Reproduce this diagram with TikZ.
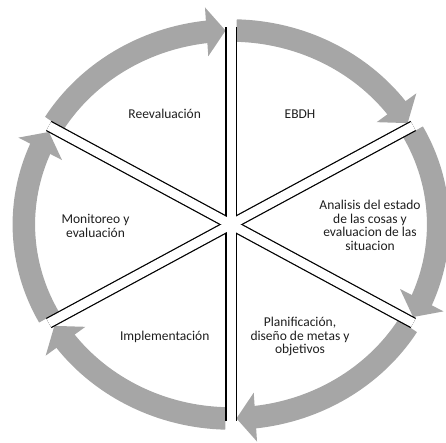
\documentclass[tikz,border=0pt]{standalone}
\usepackage{fontspec}
\setmainfont{Carlito}
\usetikzlibrary{arrows.meta}
\usetikzlibrary{bending}
\definecolor{cgray}{RGB}{166, 166, 166}
\definecolor{ctext}{RGB}{30, 30, 30}
\tikzset{ring/.style = {line width=22.5pt, cgray,
                        -{Triangle[length=19pt, width=48pt]}},
         sepout/.style = {line width=11.5pt, black},
         sepin/.style = {line width=9pt, white},
         lbl/.style = {align=center, inner sep=0pt, ctext,
                       font=\fontsize{13.5}{13.7}\selectfont}}

\begin{document}
\begin{tikzpicture}[x=1pt, y=1pt]
    \useasboundingbox (0, 0) rectangle (446, 443);
    \clip (0, 0) rectangle (446, 443);
    \begin{scope}[shift={(231, 218.5)}, xscale=1.068]
        \foreach \a in {90, 30, -30, -90, -150, -210}
            \draw [ring] (\a + 58.5:194) arc [start angle=\a + 58.5, end angle=\a + 1.5, radius=194];
        \foreach \a in {90, 30, -30, -90, -150, -210}
            \draw [sepout] (0, 0) -- (\a:197);
        \foreach \a in {90, 30, -30, -90, -150, -210}
            \draw [sepin] (0, 0) -- (\a:197);
    \end{scope}

    \node [lbl] (reeval) at (164.7, 328.7) {Reevaluación};
    \node [lbl] (ebdh) at (300, 328.7) {EBDH};
    \node [lbl] (analisis) at (370, 217.5) {Analisis del estado\\de las cosas y\\evaluacion de las\\situacion};
    \node [lbl] (monitoreo) at (95.5, 217.3) {Monitoreo y\\evaluación};
    \node [lbl] (implem) at (164.7, 106.3) {Implementación};
    \node [lbl] (planif) at (300, 106.3) {Planificación,\\diseño de metas y\\objetivos};
\end{tikzpicture}
\end{document}
